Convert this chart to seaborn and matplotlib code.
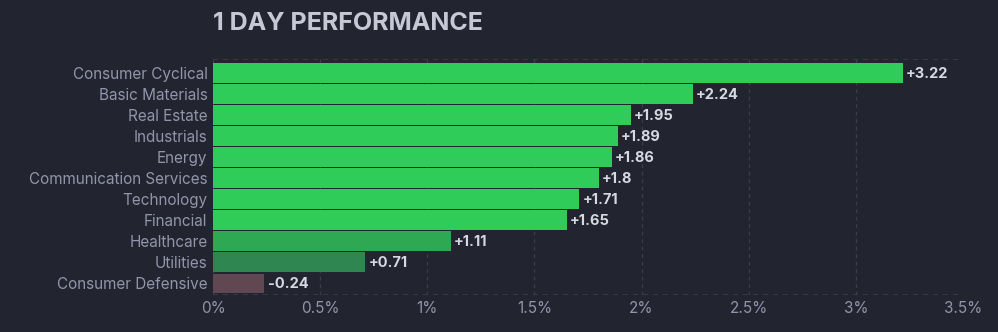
import matplotlib
matplotlib.use("Agg")
import matplotlib.pyplot as plt
import seaborn as sns
import pandas as pd
import numpy as np

sectors = ["Consumer Cyclical", "Basic Materials", "Real Estate", "Industrials", "Energy",
           "Communication Services", "Technology", "Financial", "Healthcare", "Utilities",
           "Consumer Defensive"]
changes = [3.22, 2.24, 1.95, 1.89, 1.86, 1.8, 1.71, 1.65, 1.11, 0.71, -0.24]
bar_colors = ["#30cc5a", "#30cc5a", "#30cc5a", "#30cc5a", "#30cc5a", "#30cc5a", "#30cc5a",
              "#30cc5a", "#2ea853", "#2f8650", "#614752"]
x_ticks = [0, 0.5, 1, 1.5, 2, 2.5, 3, 3.5]
x_tick_labels = ["0%", "0.5%", "1%", "1.5%", "2%", "2.5%", "3%", "3.5%"]
title = "1 DAY PERFORMANCE"

BG = "#22252f"
sns.set_theme(style="dark")
plt.rcParams["font.family"] = ["Inter", "DejaVu Sans"]

df = pd.DataFrame({"sector": sectors, "change": changes,
                   "size": np.abs(changes)})

fig = plt.figure(figsize=(9.98, 3.32), dpi=100, facecolor=BG)
ax = fig.add_axes([213/998, 1 - 295/332, 750/998, 236/332])
ax.set_facecolor(BG)

sns.barplot(data=df, x="size", y="sector", hue="sector", palette=bar_colors,
            legend=False, ax=ax, width=0.94, orient="h", linewidth=0, saturation=1)

n = len(sectors)
ax.set_xlim(0, 3.5)
ax.set_ylim(n - 0.45, -0.65)
ax.set_xticks(x_ticks)
ax.set_xticklabels(x_tick_labels)
ax.set_xlabel("")
ax.set_ylabel("")
ax.grid(False)
for xt in x_ticks:
    ax.axvline(xt, color="#3a3e4c", lw=0.9, ls=(0, (3, 3)), zorder=0)
ax.axhline(-0.65, color="#3a3e4c", lw=1.2, ls=(0, (3, 3)), zorder=0)
ax.axhline(n - 0.45, color="#3a3e4c", lw=1.2, ls=(0, (3, 3)), zorder=0)
for s in ax.spines.values():
    s.set_visible(False)
ax.tick_params(axis="x", colors="#8a8fa5", labelsize=11, length=0, pad=4)
ax.tick_params(axis="y", colors="#9a9fb5", labelsize=11, length=0, pad=4)
for lbl in ax.get_xticklabels() + ax.get_yticklabels():
    lbl.set_color("#9095ab")

for i, v in enumerate(changes):
    txt = f"+{v:g}" if v > 0 else f"{v:g}"
    ax.text(abs(v) + 0.015, i + 0.05, txt, va="center", ha="left", color="#d6d8e2",
            fontsize=10.5, fontweight="bold")

fig.text(213/998, 1 - 23/332, title, ha="left", va="center", color="#c6c8d6",
         fontsize=18, fontweight="bold")

fig.savefig("out.png", dpi=100, facecolor=BG)
